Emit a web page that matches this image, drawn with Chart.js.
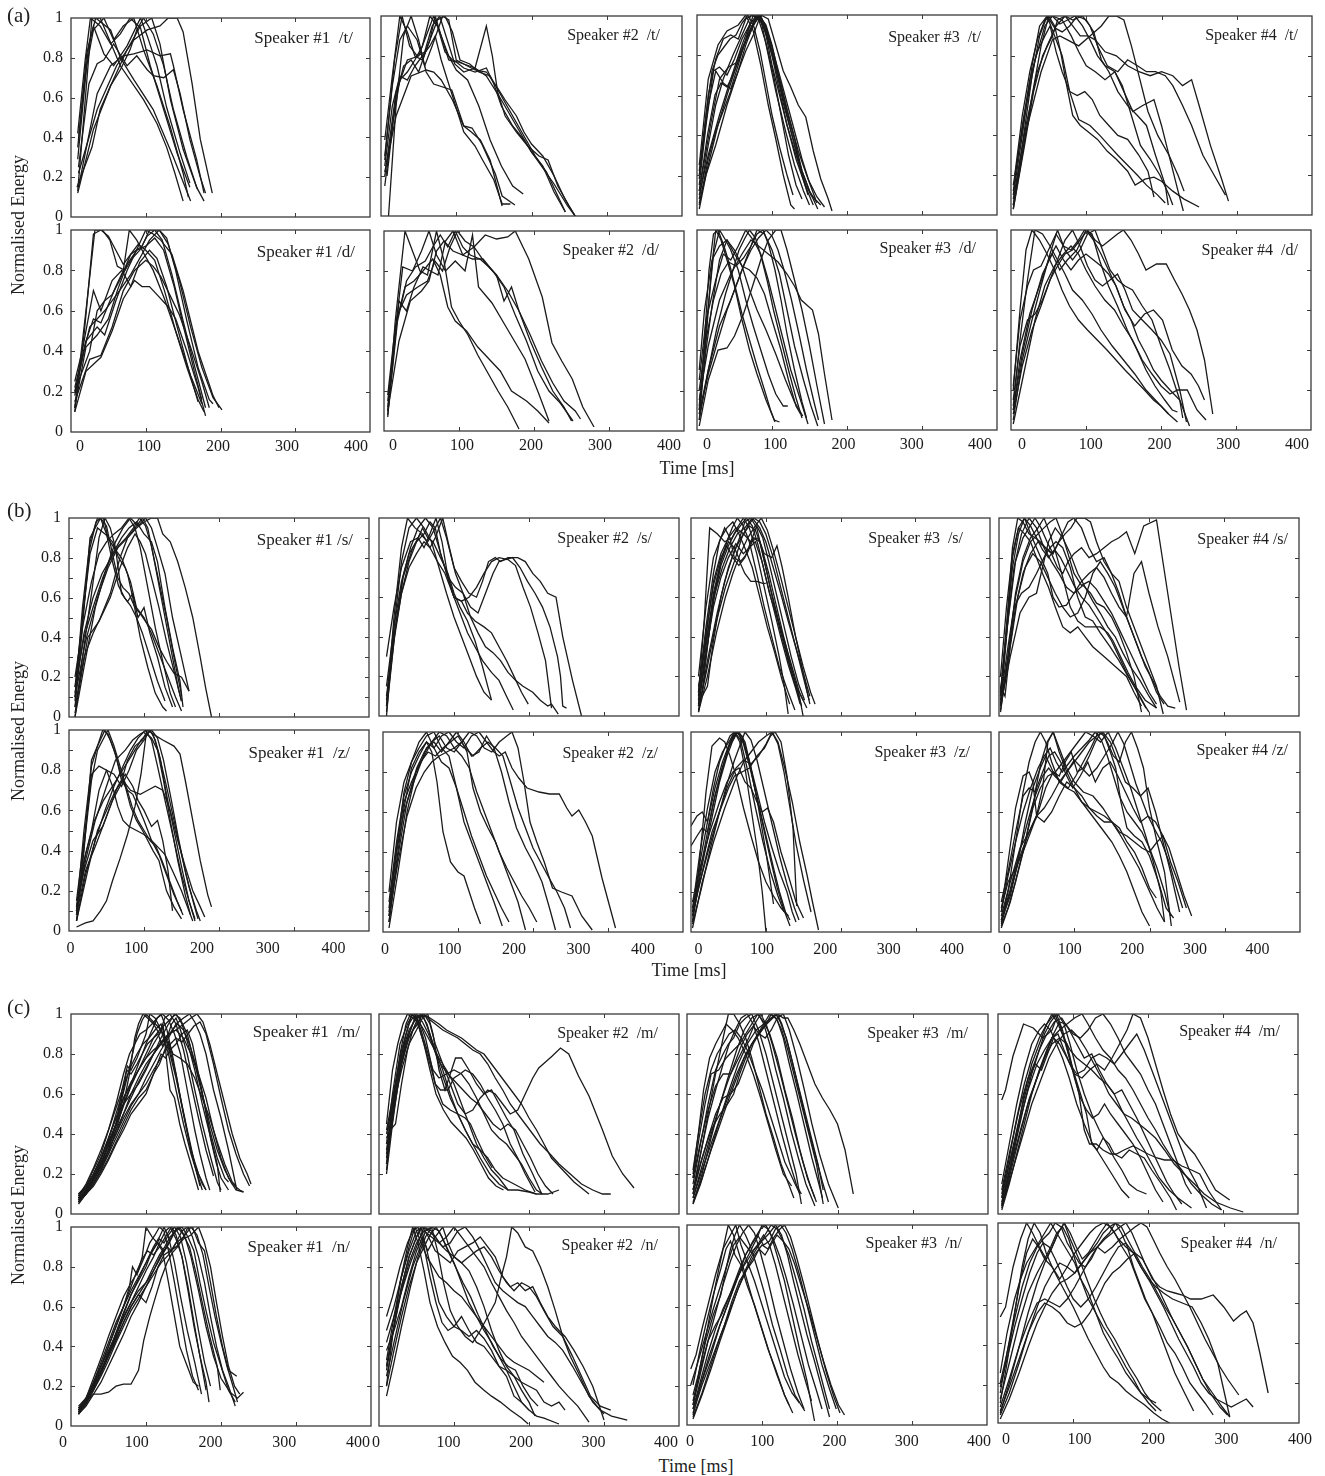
<!DOCTYPE html>
<html>
<head>
<meta charset="utf-8">
<script src="https://cdn.jsdelivr.net/npm/chart.js@4.4.1/dist/chart.umd.min.js"></script>
<style>
  html, body { margin: 0; padding: 0; background: #fff; }
  #stage { position: relative; width: 1325px; height: 1476px; overflow: hidden; font-family: "Liberation Serif", "DejaVu Serif", serif; color: #1e1e1e; }
  .panel { position: absolute; }
  .panel canvas { display: block; }
  .spk { position: absolute; font-size: 16px; line-height: 18px; white-space: pre; }
  .spk.first { font-size: 17px; }
  .grp { position: absolute; font-size: 21px; line-height: 24px; }
  .xt { position: absolute; font-size: 18px; line-height: 22px; width: 200px; text-align: center; }
  .yt { position: absolute; font-size: 18px; line-height: 22px; width: 220px; text-align: center; transform: rotate(-90deg); transform-origin: 50% 50%; }
</style>
</head>
<body>
<div id="stage"></div>
<script>
// Axis ticks shared by every panel
const TIME_TICKS = [0, 100, 200, 300, 400];
const ENERGY_TICKS = [0, 0.2, 0.4, 0.6, 0.8, 1];

// Each token: list of normalised-energy contours, each stored as [t0, e0, t1, e1, ...] (t in ms)
// ---- (a) /t/ ----
const spk1_t = [
  [9,.13, 28,1.0, 39,1.0, 66,.76, 97,.59, 115,.47, 128,.35, 139,.22, 150,.08],
  [10,.39, 21,.82, 33,1.0, 53,.94, 66,.8, 84,.69, 110,.54, 137,.3, 160,.08],
  [8,.15, 28,.35, 39,.54, 53,.66, 66,.74, 79,.84, 88,.94, 97,1.0, 110,.92, 124,.76, 137,.54, 155,.3, 169,.14],
  [9,.12, 30,.44, 53,.66, 75,.84, 93,.96, 108,1.0, 119,.87, 133,.59, 150,.34, 168,.15, 178,.08],
  [10,.22, 35,.54, 61,.76, 84,.89, 102,.94, 119,.96, 130,1.0, 142,1.0, 150,.93, 162,.67, 173,.39, 189,.12],
  [9,.42, 19,.79, 26,1.0, 39,.96, 53,.87, 66,.92, 79,1.0, 93,.95, 106,.76, 124,.54, 142,.32, 159,.15],
  [10,.25, 24,.67, 35,.77, 44,.79, 57,.87, 75,.76, 88,.81, 102,.74, 110,.71, 124,.7, 137,.74, 146,.62, 159,.39, 173,.2, 180,.12],
  [9,.29, 21,.76, 30,.94, 44,1.0, 57,.89, 70,.96, 84,1.0, 97,.84, 115,.66, 133,.45, 150,.22, 157,.1],
  [10,.15, 35,.62, 53,.76, 70,.81, 84,.82, 102,.84, 119,.81, 133,.82, 137,.76, 150,.54, 168,.29, 178,.12],
  [9,.35, 17,.64, 24,.87, 30,.96, 44,.82, 57,.76, 75,.86, 93,1.0, 102,.91, 115,.76, 128,.55, 146,.32, 159,.17]
];
const spk2_t = [
  [10,.0, 20,.55, 30,.9, 40,1.0, 50,.88, 60,.72, 70,.66, 94,.63, 110,.45, 121,.44, 134,.36, 152,.21, 161,.1, 178,.055],
  [5,.38, 15,.7, 25,1.0, 35,.92, 45,.8, 55,.78, 65,.88, 72,1.0, 80,.9, 90,.78, 100,.77, 110,.74, 125,.72, 140,.74, 150,.66, 160,.55, 175,.45, 190,.38, 200,.32, 215,.25, 230,.12, 245,.02],
  [5,.28, 18,.78, 28,1.0, 38,.85, 48,.8, 58,.82, 68,.95, 78,1.0, 88,.88, 98,.76, 110,.72, 125,.74, 140,.95, 148,.8, 155,.62, 165,.5, 180,.42, 195,.35, 210,.3, 222,.28, 235,.15, 250,.05, 258,.0],
  [5,.25, 15,.55, 25,.7, 35,.68, 45,.75, 55,.8, 65,.85, 72,.9, 80,.78, 95,.6, 110,.42, 125,.35, 135,.28, 150,.18, 161,.06, 172,.06],
  [5,.15, 15,.45, 25,.68, 35,.72, 45,.78, 55,.85, 65,1.0, 75,.95, 85,.82, 95,.78, 110,.76, 125,.73, 140,.72, 155,.64, 165,.58, 180,.5, 190,.42, 200,.36, 215,.3, 230,.2, 245,.08, 258,.0],
  [5,.2, 20,.62, 35,.78, 50,.8, 60,.9, 70,1.0, 80,.9, 90,.8, 100,.73, 115,.68, 130,.55, 145,.38, 160,.25, 175,.15, 189,.11],
  [8,.2, 20,.6, 30,.75, 40,.78, 50,.72, 62,.85, 75,.98, 85,1.0, 95,.92, 105,.78, 118,.76, 130,.72, 145,.7, 160,.6, 175,.5, 190,.4, 205,.3, 220,.22, 235,.1, 245,.02],
  [5,.3, 15,.65, 25,.88, 35,.95, 48,.88, 58,.75, 68,.85, 82,1.0, 90,.98, 100,.78, 110,.76, 125,.74, 140,.7, 160,.58, 180,.45, 200,.32, 215,.24, 230,.16, 248,.05, 258,.0],
  [5,.22, 20,.5, 40,.7, 60,.73, 70,.72, 80,.68, 95,.58, 110,.45, 120,.42, 132,.38, 145,.28, 161,.05]
];
const spk3_t = [
  [3,.25, 15,.68, 28,.85, 40,.92, 55,.95, 65,1.0, 75,.92, 85,.75, 95,.55, 105,.38, 115,.2, 125,.05, 130,.03],
  [3,.2, 15,.55, 25,.72, 35,.66, 45,.63, 55,.75, 65,.88, 75,1.0, 85,.98, 95,.8, 105,.62, 118,.42, 130,.25, 142,.12, 150,.05],
  [3,.05, 15,.28, 25,.42, 35,.52, 45,.62, 55,.72, 65,.82, 75,.9, 85,1.0, 95,.98, 105,.85, 115,.72, 125,.64, 135,.55, 145,.49, 155,.32, 165,.18, 175,.08, 180,.02],
  [3,.1, 15,.3, 30,.5, 45,.68, 60,.85, 70,.95, 80,1.0, 90,.93, 100,.8, 110,.62, 120,.45, 132,.3, 145,.15, 155,.08, 161,.03],
  [3,.12, 18,.45, 30,.68, 42,.74, 52,.76, 62,.85, 72,.92, 82,1.0, 92,.95, 100,.85, 110,.68, 122,.5, 135,.32, 148,.18, 160,.09, 170,.04],
  [3,.08, 15,.35, 25,.55, 35,.68, 48,.8, 60,.9, 72,1.0, 82,.98, 92,.86, 102,.7, 112,.5, 122,.3, 132,.15, 140,.08],
  [3,.15, 12,.45, 22,.72, 30,.74, 40,.7, 50,.78, 60,.88, 70,.95, 80,1.0, 90,.96, 100,.82, 110,.68, 120,.52, 130,.38, 140,.22, 150,.12, 160,.06],
  [3,.03, 12,.2, 25,.35, 40,.55, 55,.72, 65,.85, 75,.95, 85,1.0, 92,.9, 100,.75, 110,.6, 120,.45, 132,.28, 145,.14, 155,.05],
  [3,.18, 15,.6, 25,.78, 35,.88, 45,.9, 55,.88, 65,.98, 75,1.0, 85,.97, 95,.88, 105,.74, 115,.56, 128,.38, 140,.22, 152,.1, 165,.05],
  [3,.22, 12,.5, 20,.72, 28,.8, 36,.84, 44,.88, 52,.9, 60,.96, 68,1.0, 76,.94, 84,.82, 92,.66, 100,.5, 110,.34, 120,.2, 128,.1],
  [3,.06, 15,.25, 28,.45, 40,.6, 52,.74, 62,.84, 70,.92, 78,.98, 84,1.0, 92,.94, 100,.84, 110,.7, 120,.56, 130,.42, 140,.28, 150,.16, 158,.08],
  [3,.12, 14,.4, 24,.6, 32,.66, 40,.64, 48,.7, 58,.8, 68,.9, 76,.97, 84,1.0, 92,.92, 100,.8, 110,.66, 120,.5, 130,.35, 140,.2, 148,.1]
];
const spk4_t = [
  [3,.1, 15,.4, 28,.75, 38,.95, 48,1.0, 58,.9, 68,.8, 78,.62, 88,.6, 98,.62, 108,.58, 118,.5, 130,.45, 142,.4, 155,.38, 170,.3, 182,.22, 190,.09],
  [3,.03, 15,.3, 28,.6, 40,.85, 50,1.0, 58,.95, 66,.82, 74,.65, 82,.5, 92,.45, 102,.42, 115,.38, 128,.32, 140,.28, 155,.22, 165,.15, 178,.18, 190,.19, 200,.17, 215,.12, 230,.08, 250,.04],
  [3,.05, 15,.35, 28,.7, 38,.9, 48,1.0, 58,.94, 68,.92, 78,.95, 88,1.0, 100,.98, 110,.92, 120,.78, 130,.72, 142,.62, 155,.55, 168,.5, 180,.45, 192,.3, 205,.15, 209,.05],
  [5,.2, 15,.5, 25,.72, 35,.88, 45,.98, 55,1.0, 65,.96, 75,.98, 85,1.0, 95,.95, 105,.88, 115,.8, 125,.75, 138,.72, 150,.62, 162,.52, 175,.55, 190,.58, 200,.45, 210,.3, 222,.12, 229,.02],
  [3,.08, 20,.45, 35,.72, 48,.85, 60,.95, 72,1.0, 82,.95, 92,.9, 102,.9, 112,.88, 125,.82, 140,.8, 155,.75, 170,.72, 185,.7, 200,.72, 215,.7, 228,.65, 240,.68, 250,.55, 265,.35, 280,.18, 289,.07],
  [3,.03, 18,.35, 30,.62, 42,.8, 55,.9, 62,.98, 72,1.0, 82,.98, 95,1.0, 105,.95, 115,.85, 128,.75, 142,.72, 155,.78, 168,.75, 180,.72, 192,.72, 205,.7, 215,.65, 228,.55, 240,.45, 255,.3, 270,.2, 285,.1],
  [3,.15, 18,.5, 32,.78, 45,.95, 55,1.0, 68,.98, 80,.9, 90,.82, 100,.75, 112,.72, 125,.68, 138,.72, 148,.65, 160,.5, 172,.35, 185,.28, 198,.2, 210,.1, 215,.05],
  [3,.05, 20,.42, 40,.72, 55,.88, 65,.9, 75,.88, 90,.85, 105,.9, 120,.95, 130,1.0, 140,1.0, 150,.98, 160,.85, 170,.7, 182,.52, 195,.4, 210,.3, 222,.2, 230,.12],
  [3,.12, 15,.45, 25,.68, 35,.82, 45,.9, 52,.95, 60,.82, 68,.72, 78,.62, 90,.48, 105,.45, 118,.4, 130,.35, 142,.3, 155,.25, 168,.2, 180,.15, 195,.1, 205,.06]
];
// ---- (a) /d/ ----
const spk1_d = [
  [5,.12, 20,.6, 32,1.0, 42,1.0, 52,.95, 62,.82, 72,.8, 82,.86, 92,.9, 102,.97, 112,1.0, 122,.95, 135,.78, 150,.55, 165,.33, 180,.12],
  [5,.1, 18,.5, 30,.98, 40,1.0, 50,.97, 60,.9, 70,.83, 80,.88, 90,.93, 100,.9, 112,.85, 125,.7, 140,.5, 155,.32, 170,.16, 178,.1],
  [5,.22, 20,.45, 30,.56, 40,.54, 50,.63, 60,.72, 70,.8, 78,1.0, 88,.95, 98,.88, 110,.8, 125,.66, 140,.5, 160,.28, 175,.14],
  [5,.2, 25,.4, 35,.6, 45,.65, 55,.68, 65,.75, 80,.88, 95,.92, 105,1.0, 118,1.0, 130,.93, 145,.75, 160,.52, 175,.32, 190,.17, 202,.11],
  [5,.15, 25,.36, 40,.38, 55,.52, 70,.7, 85,.8, 100,.85, 110,.82, 120,.77, 132,.68, 145,.58, 160,.42, 175,.25, 185,.12],
  [5,.1, 20,.3, 40,.37, 55,.5, 70,.66, 85,.75, 95,.72, 105,.72, 115,.68, 130,.62, 140,.56, 155,.4, 170,.22, 180,.08],
  [5,.18, 20,.45, 35,.52, 45,.48, 60,.65, 75,.8, 90,.92, 100,1.0, 110,.98, 120,.95, 135,.88, 150,.7, 170,.4, 190,.18, 198,.12],
  [5,.2, 25,.52, 45,.6, 65,.7, 80,.78, 95,.88, 105,.95, 118,1.0, 128,.96, 140,.8, 155,.55, 170,.32, 185,.16, 190,.14],
  [5,.25, 15,.4, 30,.7, 40,.6, 55,.75, 68,.8, 80,.72, 92,.84, 105,.9, 115,.86, 128,.72, 142,.52, 158,.3, 170,.15],
  [5,.12, 20,.42, 35,.48, 50,.56, 62,.7, 75,.83, 88,.9, 100,.92, 112,.96, 124,.9, 138,.72, 152,.5, 165,.3, 175,.16]
];
const spk2_d = [
  [5,.07, 15,.55, 28,1.0, 38,.9, 48,.8, 58,.78, 70,1.0, 80,.85, 90,.62, 100,.55, 112,.48, 125,.38, 140,.28, 152,.2, 165,.12, 180,.01],
  [5,.12, 15,.5, 25,.82, 38,.8, 50,.9, 60,1.0, 70,.88, 82,.8, 95,.85, 108,.8, 118,.98, 126,.72, 144,.64, 166,.5, 188,.36, 206,.19, 220,.05],
  [5,.08, 18,.55, 30,.75, 42,.82, 55,.85, 65,.92, 75,.98, 85,.92, 95,1.0, 105,.92, 115,.88, 128,.86, 140,.82, 150,.78, 160,.65, 170,.72, 180,.6, 195,.45, 210,.32, 225,.2, 240,.12, 250,.05],
  [5,.1, 20,.65, 30,.6, 40,.72, 52,.82, 62,.8, 72,.78, 82,.95, 92,1.0, 105,.88, 118,.86, 132,.86, 145,.8, 160,.72, 175,.58, 190,.45, 205,.3, 220,.2, 235,.14, 252,.05],
  [5,.15, 18,.58, 30,.68, 45,.72, 58,.75, 68,.85, 78,.8, 88,.92, 98,1.0, 108,.95, 120,.92, 135,.84, 150,.78, 165,.7, 180,.6, 195,.48, 210,.35, 225,.24, 240,.15, 255,.1, 262,.06],
  [5,.1, 20,.45, 35,.65, 50,.7, 60,.75, 70,.9, 80,.95, 92,.9, 105,.88, 120,.92, 135,.98, 150,.96, 165,.97, 175,1.0, 193,.86, 211,.67, 224,.44, 237,.35, 251,.26, 265,.12, 280,.02],
  [5,.18, 15,.52, 28,.72, 40,.75, 52,.8, 65,.86, 75,.78, 85,.62, 95,.55, 110,.5, 125,.42, 140,.36, 155,.3, 170,.2, 190,.15, 205,.1, 220,.04]
];
const spk3_d = [
  [3,.05, 10,.35, 18,.75, 25,1.0, 32,.95, 40,.85, 50,.72, 60,.55, 70,.4, 80,.28, 92,.15, 103,.05, 110,.04],
  [3,.12, 12,.5, 22,.88, 30,1.0, 38,.95, 45,.9, 55,.8, 65,.65, 75,.52, 85,.4, 95,.28, 105,.18, 115,.12, 121,.12],
  [3,.1, 12,.4, 20,.62, 30,.85, 40,.95, 50,.9, 60,.82, 70,.7, 80,.6, 92,.5, 105,.38, 118,.25, 130,.14, 141,.07],
  [3,.25, 12,.55, 25,.75, 35,.88, 45,.85, 55,.92, 65,1.0, 75,.95, 85,.88, 95,.75, 105,.6, 115,.45, 125,.3, 138,.15, 148,.03],
  [3,.08, 15,.3, 30,.52, 45,.65, 60,.8, 70,.9, 80,1.0, 90,.98, 100,.9, 110,.78, 120,.6, 130,.42, 142,.25, 152,.12, 161,.02],
  [3,.02, 15,.25, 28,.4, 40,.41, 50,.47, 62,.58, 75,.73, 85,.85, 95,.95, 105,1.0, 112,1.0, 120,.9, 130,.75, 140,.6, 150,.42, 160,.22, 170,.03],
  [3,.15, 15,.42, 30,.65, 45,.78, 60,.88, 72,.95, 82,.92, 95,.88, 108,.84, 120,.78, 130,.72, 139,.65, 154,.6, 162,.48, 170,.28, 180,.05],
  [3,.3, 10,.6, 20,.85, 30,.92, 40,.95, 50,.88, 60,.82, 70,.8, 80,.76, 90,.68, 100,.55, 112,.4, 122,.25, 132,.12, 138,.08],
  [3,.1, 10,.45, 16,.8, 22,.98, 28,1.0, 36,.92, 44,.82, 52,.7, 60,.58, 70,.45, 80,.32, 90,.2, 98,.1, 104,.04],
  [3,.05, 14,.28, 26,.5, 38,.68, 48,.8, 56,.9, 64,.96, 70,1.0, 78,.96, 86,.86, 94,.74, 102,.6, 112,.45, 122,.3, 132,.16, 140,.06],
  [3,.2, 12,.45, 22,.65, 32,.78, 42,.84, 52,.82, 62,.86, 72,.92, 80,.98, 88,1.0, 96,.92, 104,.8, 112,.65, 120,.48, 130,.3, 140,.14, 146,.06],
  [3,.08, 15,.28, 28,.45, 40,.6, 52,.72, 62,.82, 72,.9, 82,.96, 92,1.0, 100,.97, 108,.9, 116,.8, 126,.65, 136,.48, 146,.3, 156,.14, 162,.05]
];
const spk4_d = [
  [3,.2, 12,.6, 20,.9, 28,1.0, 38,.95, 48,.88, 58,.8, 68,.7, 78,.62, 90,.55, 102,.5, 115,.45, 128,.4, 140,.35, 152,.3, 165,.25, 178,.2, 190,.15, 200,.12, 210,.08],
  [3,.12, 12,.45, 22,.75, 32,1.0, 42,.98, 52,.92, 62,.85, 72,.78, 82,.7, 95,.65, 108,.58, 120,.5, 135,.42, 150,.35, 165,.28, 180,.2, 195,.14, 210,.08, 222,.04],
  [3,.05, 15,.35, 28,.55, 40,.72, 52,.88, 62,1.0, 72,.9, 82,.85, 92,.9, 102,.98, 112,1.0, 122,.9, 132,.8, 142,.75, 152,.72, 162,.7, 175,.62, 188,.55, 200,.42, 212,.3, 225,.15, 238,.02],
  [3,.08, 15,.32, 28,.5, 40,.62, 52,.75, 62,.85, 72,.95, 82,1.0, 92,.92, 102,.82, 112,.75, 122,.72, 132,.75, 142,.78, 152,.7, 162,.6, 175,.55, 188,.5, 200,.45, 212,.38, 225,.2, 234,.04],
  [3,.15, 12,.42, 22,.55, 32,.58, 42,.65, 52,.75, 62,.82, 72,.88, 82,.9, 92,.95, 102,1.0, 112,.95, 122,.92, 132,.95, 142,.98, 150,1.0, 160,.95, 170,.88, 180,.8, 194,.83, 207,.83, 218,.75, 228,.68, 238,.6, 248,.5, 258,.35, 269,.08],
  [3,.1, 12,.35, 25,.58, 38,.72, 50,.85, 60,.92, 70,.85, 80,.8, 90,.85, 100,.88, 110,.85, 120,.82, 130,.78, 140,.72, 152,.6, 165,.52, 178,.58, 190,.6, 202,.55, 215,.4, 228,.32, 240,.28, 250,.22, 258,.15],
  [3,.1, 15,.38, 28,.6, 42,.78, 55,.88, 65,.8, 75,.85, 88,.9, 100,1.0, 110,.95, 120,.88, 130,.8, 140,.72, 150,.62, 160,.55, 170,.45, 180,.38, 190,.3, 200,.25, 212,.2, 225,.15, 229,.06],
  [3,.03, 18,.3, 32,.55, 45,.72, 58,.82, 70,.88, 80,.92, 90,.88, 100,.8, 112,.72, 125,.65, 138,.6, 150,.52, 162,.45, 175,.35, 188,.28, 200,.22, 212,.18, 222,.2, 235,.2, 248,.1, 260,.05],
  [3,.22, 12,.55, 22,.72, 30,.8, 40,.82, 50,.9, 60,.98, 70,.92, 80,.9, 90,.95, 98,1.0, 108,.98, 118,.85, 130,.72, 142,.62, 155,.5, 168,.4, 180,.3, 192,.22, 205,.15, 215,.1, 222,.09]
];
// ---- (b) /s/ ----
const spk1_s = [
  [8,.05, 18,.45, 28,.9, 35,.95, 42,1.0, 50,.96, 58,.82, 65,.7, 72,.65, 80,.62, 88,.55, 95,.52, 102,.48, 110,.44, 120,.35, 130,.28, 140,.22, 150,.2, 160,.13],
  [8,.1, 18,.55, 28,.88, 38,1.0, 46,1.0, 52,.9, 60,.85, 70,.8, 78,.72, 85,.6, 95,.4, 105,.25, 115,.12, 125,.05, 130,.03],
  [8,.0, 18,.3, 30,.62, 40,.9, 48,1.0, 55,.95, 62,.85, 70,.62, 78,.58, 85,.62, 92,.5, 100,.55, 108,.42, 118,.3, 128,.15, 138,.05],
  [8,.2, 18,.45, 30,.68, 40,.82, 50,.88, 60,.92, 70,.95, 80,1.0, 88,.95, 95,.85, 105,.65, 115,.45, 125,.28, 135,.12, 142,.05],
  [8,.05, 20,.3, 32,.42, 42,.5, 55,.62, 68,.8, 78,.9, 88,.95, 98,1.0, 105,.95, 112,.82, 120,.68, 130,.5, 140,.3, 150,.11],
  [8,.15, 20,.4, 32,.55, 45,.7, 58,.82, 70,.9, 80,.95, 90,.98, 100,.92, 110,.88, 118,.78, 128,.55, 138,.35, 148,.18, 152,.05],
  [8,.0, 20,.25, 35,.55, 50,.75, 62,.88, 72,.95, 82,1.0, 92,.96, 102,1.0, 110,.95, 118,.85, 128,.72, 138,.5, 150,.3, 160,.13],
  [8,.1, 22,.38, 38,.6, 52,.75, 65,.85, 78,.9, 90,.95, 100,.98, 110,1.0, 118,1.0, 125,.92, 135,.88, 145,.78, 155,.65, 165,.5, 175,.3, 182,.15, 190,.0],
  [8,.15, 18,.5, 28,.82, 38,.95, 48,.92, 58,.88, 66,.8, 75,.75, 82,.68, 90,.55, 100,.5, 110,.42, 120,.32, 132,.2, 142,.1, 150,.03],
  [8,.02, 25,.4, 40,.48, 55,.6, 68,.75, 78,.85, 88,.92, 95,.88, 102,.82, 110,.7, 120,.55, 130,.38, 142,.2, 150,.08],
  [8,.08, 18,.5, 28,.85, 36,.98, 42,1.0, 50,.92, 58,.78, 66,.66, 74,.6, 82,.56, 90,.5, 98,.42, 108,.3, 118,.18, 128,.08],
  [8,.12, 20,.42, 32,.6, 44,.72, 56,.8, 66,.86, 76,.9, 86,.95, 94,1.0, 102,.96, 110,.86, 118,.7, 128,.5, 138,.3, 146,.14, 150,.08]
];
const spk2_s = [
  [10,.0, 20,.45, 30,.78, 40,.95, 50,1.0, 60,.95, 70,.88, 80,.75, 90,.62, 100,.5, 110,.4, 120,.3, 130,.2, 140,.12, 150,.08],
  [10,.05, 20,.5, 30,.85, 38,1.0, 48,.95, 58,.92, 68,.85, 78,.78, 88,.72, 98,.62, 108,.52, 118,.42, 128,.35, 138,.28, 150,.22, 160,.18, 170,.1, 179,.03],
  [10,.02, 22,.45, 32,.7, 42,.85, 52,.95, 62,1.0, 72,.95, 80,.85, 90,.72, 100,.6, 110,.58, 118,.52, 128,.48, 140,.45, 150,.42, 160,.35, 170,.28, 180,.2, 190,.12, 199,.06],
  [10,.3, 20,.55, 30,.75, 42,.88, 52,.9, 60,.85, 68,.92, 76,1.0, 84,.88, 92,.7, 100,.6, 110,.58, 120,.6, 130,.65, 140,.72, 150,.78, 160,.8, 172,.79, 182,.76, 192,.65, 202,.55, 212,.42, 222,.28, 230,.04],
  [10,.08, 20,.4, 32,.7, 45,.85, 55,.92, 65,.88, 75,.95, 82,1.0, 90,.9, 100,.75, 110,.68, 120,.62, 130,.6, 138,.68, 146,.78, 155,.8, 162,.78, 172,.8, 185,.8, 195,.78, 205,.72, 215,.68, 225,.62, 236,.6, 245,.4, 258,.18, 270,.0],
  [10,.05, 20,.38, 30,.62, 40,.78, 50,.88, 60,.92, 68,.98, 75,.95, 82,.82, 92,.7, 102,.65, 112,.62, 122,.55, 132,.52, 142,.62, 152,.72, 160,.78, 168,.79, 178,.8, 188,.75, 198,.68, 208,.62, 218,.55, 228,.45, 238,.3, 242,.2, 245,.05, 250,.04],
  [10,.1, 20,.4, 30,.62, 40,.75, 50,.82, 60,.88, 68,.85, 75,.9, 85,1.0, 92,.88, 102,.72, 112,.62, 122,.5, 132,.42, 142,.35, 152,.32, 162,.28, 172,.22, 182,.18, 192,.15, 205,.12, 215,.08, 225,.05, 230,.06, 239,.01],
  [10,.15, 20,.45, 30,.68, 40,.82, 50,.88, 58,.95, 65,.9, 72,.88, 82,.8, 92,.72, 100,.62, 108,.55, 118,.48, 128,.38, 138,.25, 145,.15, 150,.08]
];
const spk3_s = [
  [10,.1, 18,.5, 25,.95, 35,.92, 45,.88, 55,.9, 62,.95, 70,1.0, 78,.95, 88,.82, 98,.65, 108,.48, 118,.3, 125,.15, 130,.01],
  [10,.05, 20,.35, 30,.62, 40,.78, 48,.88, 55,.95, 62,1.0, 70,.96, 78,.88, 88,.72, 98,.55, 108,.4, 118,.25, 130,.12, 139,.03],
  [10,.02, 22,.28, 35,.52, 45,.68, 55,.8, 65,.9, 72,.98, 80,1.0, 88,.95, 96,.82, 106,.65, 116,.5, 126,.35, 136,.2, 145,.1, 150,.0],
  [10,.12, 20,.45, 30,.72, 38,.88, 45,.95, 52,.9, 58,.8, 65,.78, 72,.72, 80,.68, 88,.68, 96,.67, 100,.67],
  [10,.08, 20,.4, 30,.68, 40,.82, 50,.9, 60,.95, 70,.92, 80,.88, 90,.9, 98,.82, 108,.8, 115,.86, 122,.75, 130,.6, 140,.4, 150,.22, 159,.06],
  [10,.15, 22,.42, 32,.62, 42,.75, 52,.85, 62,.92, 72,.95, 82,1.0, 92,.95, 100,.88, 110,.75, 120,.62, 130,.48, 140,.35, 150,.22, 159,.1],
  [10,.06, 20,.32, 30,.55, 40,.7, 50,.8, 60,.87, 70,.82, 78,.85, 86,.88, 95,.78, 105,.62, 115,.5, 125,.38, 135,.25, 145,.12, 155,.04],
  [10,.2, 20,.55, 30,.8, 40,.9, 48,.95, 56,.98, 64,.92, 72,.85, 82,.75, 92,.6, 102,.45, 112,.32, 122,.18, 132,.06],
  [10,.03, 22,.25, 34,.48, 46,.65, 58,.78, 68,.9, 76,.96, 84,1.0, 92,.98, 100,.92, 110,.8, 120,.65, 130,.5, 140,.35, 150,.2, 158,.08],
  [10,.1, 15,.12, 22,.35, 30,.6, 40,.78, 50,.88, 58,.85, 66,.78, 75,.82, 84,.9, 92,.88, 100,.75, 110,.58, 120,.42, 130,.28, 140,.15, 148,.05],
  [10,.05, 20,.3, 30,.58, 40,.76, 50,.86, 58,.92, 66,.96, 74,1.0, 82,.96, 90,.86, 100,.7, 110,.55, 120,.4, 130,.26, 140,.14, 146,.06],
  [10,.12, 20,.42, 30,.66, 40,.8, 48,.86, 56,.8, 64,.76, 72,.8, 80,.88, 88,.96, 96,.9, 104,.78, 114,.62, 124,.46, 134,.3, 144,.16, 152,.08],
  [10,.02, 22,.2, 34,.42, 46,.6, 56,.72, 66,.82, 76,.9, 86,.96, 94,1.0, 102,.94, 110,.84, 120,.7, 130,.55, 140,.4, 150,.25, 160,.12, 166,.06],
  [10,.08, 15,.1, 22,.15, 30,.38, 40,.6, 50,.75, 60,.85, 70,.92, 78,.96, 86,.94, 94,.86, 104,.72, 114,.56, 124,.4, 134,.25, 142,.14, 150,.08]
];
const spk4_s = [
  [2,.1, 10,.45, 18,.85, 25,1.0, 32,.98, 40,.92, 48,.9, 55,.88, 62,.85, 70,.82, 78,.75, 85,.72, 92,.78, 100,.82, 110,.85, 120,.8, 130,.82, 140,.85, 150,.88, 160,.9, 170,.93, 181,.82, 193,.96, 210,.99, 225,.62, 240,.25, 250,.03],
  [2,.05, 10,.4, 18,.8, 26,.95, 34,1.0, 42,.92, 50,.85, 58,.78, 65,.72, 72,.6, 80,.55, 90,.56, 100,.62, 112,.66, 122,.62, 130,.57, 140,.55, 150,.5, 160,.42, 170,.32, 180,.2, 190,.02],
  [2,.02, 12,.3, 22,.62, 32,.8, 42,.9, 52,.95, 60,1.0, 68,.92, 76,.82, 85,.7, 95,.55, 105,.48, 115,.45, 125,.45, 135,.45, 145,.42, 152,.38, 162,.3, 172,.22, 182,.15, 195,.08, 210,.04],
  [2,.08, 12,.35, 20,.55, 30,.62, 40,.65, 50,.72, 60,.8, 68,.85, 76,.88, 85,.85, 95,.75, 105,.6, 115,.5, 125,.48, 135,.42, 148,.35, 160,.28, 172,.2, 185,.12, 195,.05, 200,.02],
  [2,.12, 12,.48, 22,.78, 32,.9, 40,.95, 48,1.0, 56,.95, 64,.88, 72,.82, 80,.88, 88,.92, 96,.95, 104,1.0, 114,1.0, 122,.98, 130,.88, 140,.78, 150,.72, 160,.68, 170,.55, 180,.45, 190,.35, 200,.25, 210,.15, 219,.01],
  [2,.03, 12,.28, 22,.55, 32,.72, 42,.82, 52,.88, 62,.85, 72,.82, 82,.9, 92,.98, 100,1.0, 110,.95, 120,.85, 130,.78, 140,.8, 150,.72, 160,.62, 170,.5, 180,.4, 190,.3, 200,.22, 210,.12, 220,.06],
  [2,.15, 8,.1, 15,.35, 25,.6, 35,.75, 45,.82, 55,.78, 65,.7, 75,.62, 85,.55, 95,.5, 105,.52, 115,.6, 125,.72, 135,.78, 145,.72, 155,.65, 165,.55, 175,.45, 185,.35, 195,.25, 205,.18, 215,.1, 225,.05, 235,.04],
  [2,.1, 10,.42, 20,.75, 30,.92, 40,1.0, 50,.95, 60,.85, 70,.78, 80,.72, 90,.65, 100,.62, 110,.68, 120,.72, 130,.75, 140,.7, 150,.62, 160,.55, 170,.5, 180,.72, 190,.78, 200,.62, 212,.45, 225,.3, 241,.07],
  [2,.2, 10,.55, 18,.82, 26,.95, 34,.92, 42,.88, 50,.8, 58,.72, 66,.65, 75,.55, 85,.45, 95,.42, 105,.45, 115,.4, 125,.35, 140,.3, 155,.25, 170,.2, 180,.12, 190,.05],
  [2,.05, 15,.3, 28,.52, 40,.6, 50,.62, 58,.75, 66,.88, 75,.95, 85,.9, 95,.82, 105,.72, 115,.65, 125,.58, 135,.52, 145,.45, 155,.4, 165,.32, 175,.25, 188,.18, 200,.1, 210,.04],
  [2,.12, 10,.45, 18,.75, 26,.92, 34,1.0, 42,.96, 50,.9, 58,.84, 66,.8, 74,.84, 82,.8, 90,.74, 100,.66, 110,.6, 120,.56, 130,.5, 140,.44, 150,.38, 160,.3, 170,.22, 180,.15, 190,.08, 196,.04],
  [2,.06, 12,.3, 22,.6, 32,.78, 42,.88, 52,.92, 60,.95, 68,.98, 76,1.0, 84,.92, 92,.82, 100,.72, 110,.66, 120,.68, 130,.64, 140,.58, 150,.52, 160,.44, 170,.36, 180,.28, 190,.2, 200,.12, 210,.06]
];
// ---- (b) /z/ ----
const spk1_z = [
  [10,.02, 22,.04, 32,.05, 42,.1, 50,.15, 58,.25, 68,.36, 78,.48, 88,.62, 96,.78, 103,.98, 110,.96, 118,.9, 126,.75, 135,.55, 145,.35, 155,.18, 162,.08],
  [10,.05, 20,.4, 30,.85, 38,.92, 45,1.0, 52,.98, 60,.9, 68,.8, 75,.72, 82,.62, 90,.55, 98,.5, 105,.45, 112,.4, 120,.35, 130,.2, 140,.12, 150,.06],
  [10,.1, 20,.5, 30,.82, 38,.92, 48,1.0, 55,.95, 62,.88, 70,.75, 78,.7, 85,.68, 92,.62, 100,.55, 110,.45, 120,.38, 130,.28, 140,.18, 150,.1],
  [10,.12, 20,.35, 30,.5, 40,.7, 50,.8, 60,.78, 70,.72, 80,.8, 90,.9, 100,.95, 108,1.0, 115,.95, 122,.85, 130,.68, 140,.5, 150,.32, 160,.15, 168,.06],
  [10,.08, 22,.3, 35,.42, 48,.55, 58,.65, 68,.72, 78,.85, 88,.92, 98,.95, 105,1.0, 112,.98, 120,.88, 130,.72, 140,.55, 150,.38, 160,.22, 170,.1, 175,.05],
  [10,.05, 25,.3, 38,.5, 50,.6, 62,.7, 72,.75, 82,.7, 95,.68, 105,.7, 115,.72, 125,.7, 135,.6, 145,.45, 155,.32, 165,.2, 175,.12, 181,.07],
  [10,.15, 20,.45, 30,.78, 40,.82, 50,.8, 58,.72, 65,.62, 72,.55, 80,.52, 90,.5, 100,.48, 110,.45, 118,.42, 128,.38, 138,.3, 150,.2, 160,.1, 165,.05],
  [10,.1, 22,.35, 35,.55, 50,.72, 62,.85, 75,.9, 85,.95, 95,.98, 105,1.0, 112,.98, 125,.95, 140,.92, 148,.88, 155,.75, 165,.55, 175,.35, 185,.18, 190,.12],
  [10,.12, 20,.3, 32,.45, 45,.52, 55,.62, 65,.72, 75,.78, 85,.72, 92,.65, 100,.6, 110,.52, 118,.55, 125,.45, 132,.3, 138,.1],
  [10,.05, 22,.28, 35,.45, 48,.6, 60,.72, 72,.82, 82,.9, 92,.96, 102,1.0, 110,.95, 118,.82, 128,.65, 140,.45, 150,.28, 160,.15, 168,.05],
  [10,.08, 20,.42, 30,.75, 38,.9, 45,.95, 52,1.0, 60,.92, 68,.82, 76,.72, 84,.62, 92,.55, 100,.5, 108,.45, 116,.42, 124,.35, 134,.25, 144,.15, 152,.08],
  [10,.1, 22,.38, 34,.55, 46,.65, 58,.72, 68,.78, 78,.84, 88,.9, 96,.95, 104,.98, 110,1.0, 118,.96, 126,.85, 136,.66, 146,.46, 156,.28, 166,.14, 172,.06]
];
const spk2_z = [
  [8,.05, 18,.35, 28,.62, 38,.82, 48,.9, 58,.95, 65,.9, 72,.75, 80,.5, 90,.35, 100,.3, 108,.28, 115,.2, 122,.12, 130,.04],
  [8,.08, 18,.4, 28,.7, 38,.85, 48,.92, 58,.98, 68,1.0, 78,.92, 88,.88, 98,.72, 108,.55, 118,.45, 128,.35, 138,.25, 148,.15, 159,.03],
  [8,.02, 20,.3, 32,.6, 44,.8, 55,.88, 65,.95, 75,1.0, 85,.98, 95,.92, 105,.95, 112,.9, 120,.72, 130,.6, 140,.52, 150,.45, 160,.35, 170,.25, 180,.15, 190,.01],
  [8,.1, 18,.4, 28,.6, 38,.72, 48,.82, 58,.92, 68,.95, 78,.9, 88,.95, 98,1.0, 108,.95, 118,.88, 128,.9, 138,.98, 148,.92, 158,.8, 168,.65, 178,.52, 190,.42, 200,.35, 212,.25, 222,.12, 230,.01],
  [8,.15, 18,.45, 28,.68, 38,.8, 48,.88, 58,.95, 68,.92, 78,.98, 88,1.0, 98,.95, 108,.92, 118,.98, 128,1.0, 138,.95, 148,.9, 155,.88, 163,.9, 172,.82, 181,.77, 192,.72, 208,.7, 222,.69, 235,.69, 245,.62, 252,.58, 261,.61, 270,.55, 279,.48, 292,.27, 310,.02],
  [8,.05, 20,.38, 32,.65, 45,.82, 55,.9, 65,.95, 75,.98, 85,.92, 95,.9, 105,.95, 115,1.0, 125,.98, 135,.92, 145,.9, 155,.95, 165,.98, 172,1.0, 180,.92, 188,.75, 196,.55, 205,.45, 215,.35, 226,.22, 238,.2, 252,.18, 265,.08, 279,.01],
  [8,.12, 18,.42, 28,.65, 38,.75, 50,.85, 60,.9, 70,.88, 80,.92, 90,.95, 100,.98, 110,.92, 120,.88, 130,.92, 140,.95, 150,.92, 160,.88, 170,.75, 180,.62, 190,.52, 200,.42, 210,.35, 220,.28, 232,.2, 242,.12, 250,.02],
  [8,.2, 18,.55, 28,.75, 38,.85, 48,.95, 58,1.0, 68,.92, 78,.85, 88,.82, 98,.72, 108,.6, 118,.48, 128,.38, 138,.28, 148,.2, 158,.12, 168,.05],
  [8,.08, 20,.35, 32,.58, 44,.72, 55,.8, 65,.85, 75,.88, 85,.9, 95,.92, 105,.88, 115,.82, 125,.7, 135,.6, 145,.5, 155,.4, 165,.32, 175,.25, 185,.18, 195,.12, 205,.05]
];
const spk3_z = [
  [0,.53, 8,.58, 15,.6, 22,.55, 30,.72, 38,.85, 45,.92, 52,.98, 58,1.0, 65,.95, 72,.82, 80,.62, 88,.42, 95,.2, 100,.0],
  [0,.43, 8,.48, 15,.52, 22,.5, 30,.65, 40,.8, 50,.92, 58,.98, 64,1.0, 72,.95, 80,.82, 90,.62, 100,.4, 110,.14],
  [2,.05, 10,.3, 20,.7, 28,.93, 38,.97, 45,.95, 52,.88, 60,.78, 70,.62, 80,.48, 90,.35, 100,.25, 110,.18, 120,.12, 130,.08],
  [2,.1, 12,.35, 22,.55, 32,.72, 42,.85, 52,.95, 60,1.0, 68,.98, 76,.88, 85,.72, 95,.55, 105,.38, 115,.22, 125,.1, 132,.03],
  [2,.08, 15,.3, 28,.5, 40,.62, 50,.72, 58,.78, 68,.8, 78,.82, 88,.88, 98,.92, 106,.98, 112,1.0, 120,.95, 128,.78, 136,.52, 141,.13],
  [2,.15, 12,.32, 25,.5, 38,.65, 48,.75, 56,.8, 64,.82, 72,.75, 80,.72, 88,.65, 95,.6, 102,.62, 110,.55, 120,.4, 130,.28, 140,.15, 150,.07],
  [2,.02, 15,.25, 30,.45, 45,.62, 58,.75, 70,.85, 80,.9, 90,.95, 100,.98, 108,1.0, 116,.95, 125,.82, 135,.65, 145,.45, 155,.28, 162,.15, 170,.01],
  [2,.05, 12,.28, 25,.52, 38,.75, 48,.88, 55,.95, 62,1.0, 70,.95, 78,.85, 88,.7, 98,.55, 108,.42, 118,.3, 128,.2, 135,.1, 140,.05],
  [2,.12, 12,.4, 22,.62, 32,.8, 42,.9, 52,.96, 58,1.0, 66,.96, 76,.8, 86,.62, 96,.45, 106,.3, 116,.18, 124,.1],
  [2,.08, 12,.3, 22,.5, 32,.68, 42,.82, 50,.92, 56,.98, 62,1.0, 70,.94, 80,.8, 90,.64, 100,.48, 110,.32, 118,.2, 126,.1, 132,.06],
  [2,.04, 14,.22, 26,.42, 38,.6, 48,.74, 58,.86, 66,.94, 72,1.0, 80,.96, 88,.86, 98,.7, 108,.54, 118,.38, 128,.24, 138,.12, 144,.06],
  [2,.1, 12,.25, 24,.42, 36,.58, 48,.72, 60,.82, 70,.86, 80,.84, 90,.88, 100,.94, 108,1.0, 116,.94, 124,.8, 132,.62, 140,.44, 150,.26, 160,.1]
];
const spk4_z = [
  [3,.05, 12,.2, 22,.45, 32,.7, 40,.85, 48,.95, 55,1.0, 62,.95, 70,.85, 80,.75, 90,.72, 100,.7, 110,.65, 120,.6, 130,.55, 140,.5, 150,.45, 160,.38, 170,.3, 180,.2, 190,.1, 200,.03],
  [3,.1, 12,.35, 22,.62, 32,.78, 40,.8, 45,.75, 50,.58, 58,.72, 65,.95, 72,1.0, 80,.9, 90,.8, 100,.72, 110,.68, 120,.62, 130,.58, 140,.55, 150,.55, 160,.52, 170,.45, 180,.4, 190,.32, 200,.22, 209,.17],
  [3,.02, 15,.15, 25,.3, 35,.45, 45,.62, 55,.72, 65,.78, 75,.8, 85,.85, 95,.9, 105,.95, 115,1.0, 125,.98, 135,.95, 145,1.0, 155,.92, 165,.82, 175,.72, 185,.6, 195,.48, 205,.35, 215,.2, 220,.05],
  [3,.08, 15,.25, 28,.42, 40,.5, 52,.6, 62,.72, 72,.8, 80,.78, 88,.85, 96,.9, 104,.8, 112,.82, 120,.88, 128,.95, 136,1.0, 144,.95, 152,.88, 160,.85, 168,.95, 176,1.0, 184,.92, 192,.82, 200,.62, 210,.45, 220,.3, 229,.03],
  [3,.12, 12,.25, 22,.32, 32,.4, 42,.5, 50,.58, 60,.62, 70,.68, 80,.75, 90,.8, 100,.85, 110,.9, 120,.95, 130,.98, 138,1.0, 148,.95, 158,.85, 168,.75, 178,.72, 188,.68, 198,.72, 208,.6, 218,.45, 228,.3, 240,.1],
  [3,.03, 12,.12, 22,.25, 32,.4, 42,.58, 50,.72, 58,.8, 66,.88, 74,.9, 82,.85, 90,.78, 98,.72, 108,.78, 118,.85, 128,.75, 138,.82, 148,.85, 158,.78, 168,.7, 178,.62, 188,.55, 198,.58, 208,.55, 218,.48, 228,.35, 238,.25, 249,.12],
  [3,.06, 15,.18, 25,.35, 35,.55, 45,.72, 55,.82, 62,.88, 72,.8, 82,.75, 92,.72, 102,.78, 112,.85, 122,.92, 132,1.0, 140,.98, 148,.9, 155,.82, 162,.65, 170,.52, 180,.48, 190,.45, 200,.38, 212,.25, 222,.12, 232,.07],
  [3,.04, 15,.2, 28,.38, 40,.5, 50,.58, 60,.55, 70,.6, 80,.68, 90,.75, 100,.72, 110,.65, 120,.62, 130,.6, 140,.58, 150,.55, 160,.5, 170,.48, 180,.45, 190,.42, 200,.4, 210,.45, 218,.48, 226,.42, 236,.3, 246,.18, 256,.08],
  [3,.15, 12,.3, 22,.5, 32,.68, 40,.72, 48,.7, 56,.85, 64,.95, 72,1.0, 80,.92, 90,.82, 100,.75, 112,.7, 125,.68, 138,.62, 150,.55, 162,.48, 174,.4, 186,.32, 198,.22, 210,.12, 220,.05],
  [3,.1, 12,.28, 22,.45, 32,.6, 42,.72, 52,.82, 60,.88, 68,.92, 76,.85, 84,.8, 92,.84, 100,.88, 110,.92, 120,.96, 128,1.0, 136,.96, 144,.88, 152,.78, 160,.68, 170,.6, 180,.55, 190,.5, 200,.42, 210,.32, 220,.2, 228,.08],
  [3,.06, 14,.2, 26,.38, 38,.55, 48,.68, 58,.78, 66,.82, 74,.78, 82,.75, 90,.8, 100,.86, 110,.82, 120,.78, 130,.82, 140,.88, 150,.94, 158,1.0, 166,.94, 174,.84, 182,.74, 190,.66, 198,.58, 206,.52, 216,.45, 226,.35, 236,.22, 244,.12]
];
// ---- (c) /m/ ----
const spk1_m = [
  [10,.08, 20,.11, 30,.16, 40,.22, 50,.3, 60,.42, 70,.55, 78,.7, 85,.88, 90,.95, 96,1.0, 102,.98, 110,.95, 118,.9, 123,.94, 128,.75, 132,.62, 138,.58, 145,.45, 152,.35, 160,.25, 170,.12],
  [10,.06, 20,.1, 30,.15, 40,.22, 50,.32, 60,.45, 68,.58, 76,.7, 82,.8, 88,.9, 95,.97, 100,1.0, 110,.96, 120,.92, 130,.85, 140,.7, 150,.5, 160,.32, 170,.2, 180,.12],
  [10,.08, 20,.12, 30,.18, 40,.25, 50,.35, 60,.45, 70,.58, 80,.65, 90,.72, 100,.78, 110,.85, 118,.9, 125,.98, 132,1.0, 140,.95, 150,.82, 160,.65, 170,.48, 180,.32, 190,.19],
  [10,.1, 20,.13, 30,.2, 40,.28, 50,.38, 60,.48, 70,.55, 80,.6, 90,.65, 100,.72, 110,.8, 120,.88, 130,.95, 138,1.0, 145,.98, 155,.9, 165,.75, 175,.6, 185,.42, 195,.28, 205,.18, 210,.16],
  [10,.05, 20,.1, 30,.17, 40,.24, 50,.32, 60,.4, 70,.48, 80,.55, 90,.6, 100,.68, 110,.75, 120,.82, 130,.88, 140,.95, 150,.98, 158,1.0, 165,.96, 172,.9, 180,.8, 190,.62, 200,.48, 210,.32, 221,.12],
  [10,.07, 20,.12, 30,.18, 40,.26, 50,.34, 60,.42, 70,.5, 80,.58, 90,.66, 100,.73, 110,.8, 120,.86, 130,.9, 140,.92, 150,.95, 160,.98, 168,1.0, 176,.96, 185,.85, 195,.7, 205,.55, 215,.4, 225,.28, 235,.2, 240,.15],
  [10,.09, 20,.14, 30,.2, 40,.28, 50,.38, 60,.48, 70,.58, 80,.66, 90,.72, 100,.78, 110,.82, 120,.85, 130,.9, 140,.92, 150,.88, 160,.8, 170,.7, 180,.58, 190,.42, 200,.28, 210,.18, 220,.12, 230,.11],
  [10,.08, 20,.12, 30,.18, 40,.25, 50,.35, 60,.45, 68,.62, 74,.72, 80,.7, 88,.75, 95,.8, 102,.85, 110,.88, 118,.92, 126,.95, 134,.98, 140,1.0, 148,.95, 156,.85, 165,.72, 175,.55, 185,.4, 195,.25, 199,.11],
  [10,.06, 20,.1, 30,.14, 40,.2, 50,.27, 60,.35, 70,.42, 80,.5, 90,.55, 100,.6, 108,.68, 115,.75, 120,.8, 126,.78, 132,.82, 140,.85, 148,.9, 155,.92, 162,.85, 170,.7, 178,.55, 186,.38, 194,.25, 200,.18, 210,.12],
  [10,.1, 20,.14, 30,.22, 40,.3, 50,.42, 60,.55, 70,.7, 78,.8, 85,.85, 92,.9, 100,.92, 108,.95, 115,.98, 120,1.0, 128,.92, 136,.78, 145,.6, 155,.42, 165,.25, 175,.15, 180,.12],
  [10,.07, 20,.11, 30,.17, 40,.24, 50,.32, 60,.4, 70,.5, 80,.6, 90,.68, 100,.75, 110,.8, 120,.85, 128,.88, 135,.92, 142,.95, 150,.92, 158,.85, 166,.75, 175,.6, 185,.45, 195,.32, 205,.22, 215,.15, 225,.12, 230,.11],
  [10,.09, 20,.13, 30,.2, 40,.28, 50,.36, 60,.45, 70,.55, 80,.65, 90,.75, 100,.85, 108,.92, 115,.98, 122,1.0, 130,.97, 138,.9, 146,.8, 155,.62, 165,.42, 172,.3, 180,.18, 185,.12],
  [10,.06, 20,.1, 30,.15, 40,.21, 50,.28, 60,.36, 70,.44, 80,.52, 90,.58, 100,.62, 110,.7, 118,.75, 125,.82, 130,.86, 136,.8, 145,.78, 155,.75, 165,.68, 175,.58, 185,.48, 195,.36, 205,.25, 215,.16, 220,.14],
  [10,.07, 20,.12, 30,.19, 40,.27, 50,.37, 60,.5, 70,.62, 75,.74, 80,.72, 88,.78, 95,.85, 100,.9, 105,1.0, 112,.98, 120,.92, 130,.8, 140,.62, 150,.45, 160,.3, 170,.18, 175,.12],
  [10,.08, 20,.12, 30,.17, 40,.23, 50,.3, 60,.38, 70,.46, 80,.54, 90,.6, 100,.65, 110,.72, 120,.78, 130,.84, 140,.88, 148,.86, 156,.9, 164,.94, 172,.96, 180,.9, 190,.75, 200,.58, 210,.42, 220,.3, 230,.2, 238,.14],
  [10,.06, 20,.11, 30,.17, 40,.25, 50,.34, 60,.44, 70,.54, 80,.64, 90,.72, 100,.8, 110,.88, 116,.9, 122,.84, 128,.88, 134,.95, 140,.98, 146,.92, 155,.8, 165,.62, 175,.45, 185,.3, 195,.16, 200,.12],
  [10,.09, 20,.15, 30,.23, 40,.32, 50,.42, 60,.53, 70,.64, 80,.74, 88,.8, 96,.85, 104,.88, 112,.92, 120,.95, 126,.88, 132,.8, 140,.68, 150,.5, 160,.32, 168,.2, 172,.14]
];
const spk2_m = [
  [10,.45, 18,.72, 25,.85, 32,.95, 38,1.0, 45,.98, 55,.95, 62,.88, 68,.78, 75,.65, 85,.55, 95,.52, 105,.5, 115,.48, 122,.45, 130,.38, 140,.3, 151,.23],
  [10,.35, 18,.6, 28,.85, 38,.95, 45,1.0, 52,.95, 60,.85, 68,.75, 75,.65, 82,.62, 92,.62, 100,.68, 108,.7, 115,.72, 125,.7, 135,.65, 145,.58, 155,.52, 165,.45, 175,.35, 185,.28, 195,.2, 208,.11],
  [10,.28, 18,.55, 28,.8, 36,.95, 42,1.0, 50,.98, 60,.92, 70,.85, 80,.78, 90,.72, 100,.65, 110,.55, 120,.45, 130,.35, 140,.28, 150,.22, 160,.18, 172,.12, 185,.12, 200,.11, 210,.1],
  [10,.22, 18,.5, 26,.7, 35,.85, 45,.92, 52,.95, 58,1.0, 66,.92, 75,.82, 85,.72, 95,.6, 105,.5, 115,.42, 125,.35, 135,.28, 148,.2, 160,.15, 172,.12],
  [10,.3, 20,.55, 30,.72, 40,.85, 50,.92, 58,.98, 65,1.0, 72,.9, 80,.72, 88,.62, 95,.7, 102,.78, 110,.78, 120,.72, 130,.65, 140,.6, 150,.62, 160,.55, 170,.48, 180,.42, 192,.3, 205,.2, 217,.1],
  [10,.38, 15,.42, 22,.45, 30,.65, 38,.82, 45,.92, 52,.98, 60,1.0, 68,.95, 75,.85, 85,.75, 95,.65, 105,.55, 115,.5, 125,.52, 135,.58, 145,.62, 155,.6, 165,.55, 175,.5, 185,.52, 195,.6, 205,.68, 213,.73, 222,.76, 231,.79, 242,.83, 253,.8, 266,.69, 280,.59, 298,.42, 311,.29, 325,.2, 340,.13],
  [10,.2, 18,.45, 28,.72, 38,.88, 48,.98, 56,1.0, 64,.95, 74,.82, 84,.7, 95,.58, 105,.5, 115,.42, 125,.35, 135,.32, 145,.28, 155,.22, 165,.18, 180,.15, 195,.12, 210,.1, 225,.1, 240,.12],
  [10,.32, 20,.6, 30,.8, 40,.92, 50,.98, 58,1.0, 68,.98, 80,.95, 90,.92, 100,.9, 110,.88, 120,.85, 130,.82, 140,.8, 150,.75, 160,.7, 170,.65, 180,.6, 190,.55, 200,.48, 210,.42, 220,.35, 230,.28, 245,.22, 260,.16, 280,.1],
  [10,.25, 20,.52, 30,.75, 40,.88, 50,.95, 58,1.0, 65,.98, 75,.95, 85,.92, 95,.9, 105,.88, 115,.85, 125,.82, 135,.8, 145,.75, 155,.68, 165,.62, 175,.55, 185,.5, 195,.45, 205,.4, 215,.35, 228,.3, 240,.25, 255,.2, 270,.15, 285,.12, 298,.1, 309,.1],
  [10,.42, 20,.62, 30,.82, 40,.95, 48,1.0, 56,.92, 64,.82, 72,.72, 80,.68, 90,.7, 100,.72, 110,.7, 120,.65, 130,.58, 140,.5, 150,.42, 160,.38, 170,.35, 180,.3, 190,.25, 200,.18, 210,.12, 218,.1],
  [10,.25, 18,.5, 28,.75, 36,.9, 44,1.0, 52,.95, 60,.85, 68,.72, 76,.6, 86,.52, 96,.46, 106,.42, 116,.38, 126,.32, 136,.25, 146,.18, 156,.14, 166,.12],
  [10,.4, 20,.58, 30,.75, 40,.9, 50,1.0, 58,.96, 66,.9, 74,.82, 82,.75, 92,.7, 102,.66, 112,.62, 122,.58, 132,.55, 142,.5, 152,.45, 162,.42, 172,.45, 182,.42, 192,.35, 202,.28, 212,.2, 222,.14, 232,.1]
];
const spk3_m = [
  [8,.1, 18,.3, 28,.5, 38,.7, 48,.88, 55,1.0, 62,1.0, 70,.95, 78,.88, 86,.78, 95,.65, 105,.5, 115,.38, 125,.25, 135,.15, 142,.08],
  [8,.15, 18,.35, 28,.55, 38,.72, 48,.8, 55,.85, 62,.88, 70,.95, 78,.98, 86,1.0, 95,.92, 105,.8, 115,.65, 125,.5, 135,.35, 145,.2, 152,.05],
  [8,.05, 20,.2, 32,.38, 44,.55, 56,.7, 66,.82, 76,.92, 86,.98, 95,1.0, 102,.95, 110,.85, 118,.72, 128,.58, 138,.42, 148,.28, 158,.15, 170,.04],
  [8,.12, 20,.28, 32,.42, 44,.5, 54,.55, 62,.6, 70,.7, 78,.78, 86,.85, 94,.9, 102,.95, 110,1.0, 118,.98, 126,.92, 134,.82, 142,.7, 152,.55, 162,.4, 172,.25, 181,.05],
  [8,.08, 20,.22, 32,.35, 44,.48, 56,.62, 68,.75, 80,.85, 92,.92, 102,.95, 112,.98, 120,1.0, 128,.98, 134,.98, 142,.92, 150,.85, 160,.75, 170,.65, 180,.58, 190,.52, 200,.45, 210,.32, 221,.1],
  [8,.2, 15,.4, 22,.62, 30,.78, 38,.85, 45,.9, 52,.95, 60,.92, 68,.88, 78,.8, 88,.7, 98,.58, 108,.45, 118,.32, 128,.2, 139,.14],
  [8,.06, 20,.18, 32,.32, 44,.45, 56,.58, 66,.68, 76,.78, 86,.85, 96,.9, 104,.88, 112,.92, 120,.98, 128,1.0, 136,.92, 146,.78, 156,.62, 166,.45, 176,.3, 188,.15, 201,.03],
  [8,.18, 16,.38, 24,.55, 32,.7, 42,.72, 52,.78, 62,.82, 70,.85, 78,.9, 86,.95, 94,1.0, 102,.96, 110,.9, 120,.78, 130,.62, 140,.48, 150,.32, 160,.18, 170,.08],
  [8,.1, 18,.25, 28,.38, 38,.5, 48,.58, 58,.6, 68,.65, 78,.75, 88,.85, 98,.92, 106,.95, 114,.98, 120,1.0, 126,.95, 134,.85, 144,.7, 154,.55, 164,.4, 174,.25, 181,.12],
  [8,.22, 16,.42, 24,.6, 32,.72, 40,.8, 48,.85, 56,.9, 64,.92, 72,.88, 80,.82, 90,.72, 100,.62, 110,.5, 120,.38, 130,.26, 140,.18, 150,.1],
  [8,.12, 18,.3, 28,.48, 38,.62, 48,.75, 56,.85, 64,.92, 72,.98, 80,1.0, 88,.95, 96,.85, 106,.7, 116,.55, 126,.4, 136,.26, 146,.14, 152,.1],
  [8,.05, 18,.15, 30,.3, 42,.45, 54,.58, 66,.7, 78,.8, 88,.86, 96,.9, 104,.95, 112,.98, 118,1.0, 124,.96, 132,.88, 140,.76, 150,.6, 160,.44, 170,.3, 180,.16, 188,.06],
  [8,.18, 18,.36, 28,.52, 38,.64, 48,.7, 58,.7, 66,.76, 74,.82, 82,.88, 90,.95, 98,1.0, 106,.94, 114,.84, 124,.7, 134,.55, 144,.4, 154,.26, 164,.14, 172,.06],
  [8,.08, 20,.24, 32,.4, 44,.55, 54,.66, 64,.76, 72,.84, 80,.9, 88,.94, 96,.9, 104,.94, 112,1.0, 120,.97, 128,.88, 136,.75, 146,.6, 156,.44, 166,.28, 176,.14, 180,.08]
];
const spk4_m = [
  [5,.57, 10,.62, 20,.79, 34,.95, 47,.93, 60,.88, 72,.92, 80,1.0, 88,.95, 96,.85, 105,.72, 115,.6, 125,.5, 135,.42, 145,.35, 155,.28, 165,.22, 175,.15, 185,.12, 198,.1],
  [5,.05, 15,.22, 25,.4, 35,.6, 45,.75, 55,.85, 65,.95, 75,1.0, 82,.95, 90,.85, 100,.72, 110,.6, 118,.5, 125,.35, 132,.32, 140,.38, 148,.35, 155,.3, 165,.28, 175,.32, 185,.3, 195,.28, 205,.22, 218,.15, 230,.08, 238,.02],
  [5,.1, 15,.28, 25,.48, 35,.65, 45,.78, 55,.88, 65,.95, 72,1.0, 80,.95, 88,.88, 96,.82, 105,.78, 115,.75, 125,.72, 135,.68, 145,.65, 155,.6, 165,.52, 175,.45, 185,.38, 195,.32, 205,.25, 215,.18, 228,.12, 240,.08, 258,.03],
  [5,.02, 15,.15, 25,.3, 35,.45, 45,.6, 55,.72, 65,.82, 72,.88, 80,.9, 88,.82, 96,.75, 105,.7, 115,.72, 125,.78, 135,.8, 145,.78, 155,.75, 165,.8, 175,.85, 185,.9, 195,.82, 205,.72, 215,.62, 225,.52, 235,.42, 245,.32, 255,.22, 265,.15, 278,.03],
  [5,.08, 15,.25, 28,.45, 40,.62, 52,.75, 62,.82, 72,.88, 82,.92, 92,.95, 102,.98, 112,1.0, 120,.95, 130,.88, 140,.82, 150,.78, 160,.72, 170,.68, 180,.62, 190,.55, 200,.48, 210,.42, 220,.35, 232,.28, 245,.22, 258,.15, 270,.1, 285,.05, 298,.02],
  [5,.03, 15,.18, 28,.38, 40,.55, 52,.68, 62,.78, 72,.85, 82,.88, 92,.85, 100,.72, 108,.6, 115,.42, 122,.35, 131,.35, 140,.32, 150,.3, 158,.3, 168,.32, 180,.34, 190,.32, 200,.3, 212,.28, 222,.27, 233,.27, 245,.24, 258,.22, 269,.2, 280,.12, 298,.02],
  [5,.06, 18,.25, 30,.42, 42,.58, 54,.7, 64,.8, 74,.9, 82,.96, 90,.95, 100,.9, 110,.88, 120,.92, 130,.98, 140,1.0, 150,.95, 160,.88, 170,.8, 180,.75, 190,.7, 200,.62, 210,.55, 220,.45, 230,.35, 240,.25, 250,.15, 258,.1],
  [5,.12, 15,.3, 28,.52, 40,.68, 50,.75, 58,.72, 66,.8, 74,.88, 82,.85, 92,.78, 102,.7, 112,.68, 122,.72, 132,.75, 142,.72, 152,.78, 162,.85, 172,.92, 180,1.0, 190,.98, 200,.88, 210,.75, 220,.62, 230,.5, 240,.4, 250,.35, 262,.3, 275,.22, 290,.12, 309,.07],
  [5,.04, 18,.2, 32,.38, 45,.55, 58,.68, 68,.78, 78,.85, 88,.9, 98,.92, 108,.88, 118,.82, 128,.75, 138,.68, 148,.6, 158,.55, 168,.5, 178,.48, 188,.45, 198,.42, 210,.38, 222,.32, 235,.25, 248,.2, 262,.15, 275,.1, 290,.06, 310,.03, 327,.01],
  [5,.15, 15,.35, 25,.55, 35,.72, 45,.85, 55,.92, 62,.95, 70,.92, 78,.85, 86,.78, 95,.68, 105,.55, 115,.45, 125,.36, 135,.3, 145,.24, 155,.18, 165,.12, 175,.08],
  [5,.04, 15,.2, 25,.38, 35,.55, 45,.7, 55,.82, 62,.9, 70,.96, 78,1.0, 86,.92, 94,.8, 102,.68, 110,.58, 118,.52, 126,.48, 134,.5, 142,.55, 150,.5, 160,.45, 170,.4, 180,.35, 190,.28, 200,.2, 210,.12, 220,.06],
  [5,.08, 15,.25, 25,.42, 35,.58, 45,.72, 55,.82, 65,.9, 75,.96, 85,.98, 95,.92, 105,.85, 115,.78, 125,.8, 135,.72, 145,.65, 155,.6, 165,.62, 175,.55, 185,.48, 195,.4, 205,.32, 215,.24, 225,.16, 235,.1, 245,.05]
];
// ---- (c) /n/ ----
const spk1_n = [
  [10,.08, 20,.12, 30,.16, 40,.16, 50,.17, 60,.2, 70,.21, 80,.21, 90,.28, 97,.43, 105,.55, 112,.64, 120,.74, 128,.82, 135,.87, 142,.9, 150,.95, 156,1.0, 162,.95, 170,.85, 178,.72, 186,.55, 194,.4, 202,.28, 210,.2, 219,.1],
  [10,.06, 20,.12, 30,.2, 40,.3, 50,.4, 60,.5, 70,.6, 78,.7, 82,.8, 88,.76, 95,.85, 100,1.0, 108,.95, 115,.92, 122,.88, 130,.72, 138,.55, 145,.4, 155,.3, 163,.22, 170,.2],
  [10,.08, 20,.13, 30,.22, 40,.32, 50,.42, 60,.52, 70,.6, 80,.68, 90,.75, 100,.82, 110,.9, 118,.95, 124,1.0, 130,.95, 138,.82, 146,.65, 155,.48, 165,.32, 174,.16],
  [10,.1, 20,.14, 30,.22, 40,.3, 50,.38, 60,.46, 70,.54, 80,.62, 90,.7, 100,.78, 110,.85, 118,.92, 126,.98, 132,1.0, 140,.94, 148,.85, 156,.7, 164,.52, 172,.35, 180,.18],
  [10,.07, 20,.11, 30,.18, 40,.26, 50,.35, 60,.44, 70,.52, 80,.6, 90,.66, 100,.72, 110,.78, 120,.85, 128,.9, 135,.95, 142,1.0, 150,.96, 158,.9, 166,.78, 175,.62, 185,.45, 195,.3, 199,.18],
  [10,.06, 20,.1, 30,.16, 40,.22, 50,.3, 60,.38, 70,.46, 80,.55, 90,.62, 100,.7, 110,.78, 120,.86, 128,.9, 134,.88, 140,.92, 148,.98, 155,1.0, 162,1.0, 170,.92, 178,.88, 186,.72, 194,.55, 202,.4, 210,.28, 221,.25],
  [10,.09, 20,.13, 30,.2, 40,.28, 50,.36, 60,.45, 70,.55, 80,.62, 90,.68, 100,.72, 110,.8, 118,.86, 125,.9, 132,.95, 140,.98, 148,1.0, 156,.95, 164,.88, 172,.72, 180,.58, 190,.42, 200,.3, 210,.18, 219,.12],
  [10,.07, 20,.12, 30,.19, 40,.27, 50,.36, 60,.46, 70,.56, 80,.66, 90,.74, 100,.82, 108,.88, 116,.92, 124,.88, 130,.92, 138,.98, 145,1.0, 152,.95, 160,.85, 170,.68, 180,.5, 190,.35, 200,.24, 212,.17, 222,.14, 230,.17],
  [10,.08, 20,.14, 30,.24, 40,.34, 50,.45, 60,.55, 70,.65, 80,.72, 90,.78, 98,.85, 105,.92, 112,.96, 118,1.0, 124,.98, 130,.88, 138,.72, 146,.55, 154,.38, 162,.25, 170,.18],
  [10,.06, 20,.11, 30,.18, 40,.25, 50,.33, 60,.42, 70,.5, 80,.58, 90,.64, 100,.7, 110,.76, 120,.82, 130,.86, 140,.92, 150,.95, 160,1.0, 168,.96, 176,.86, 184,.7, 192,.55, 200,.42, 208,.3, 216,.2, 222,.12],
  [10,.07, 20,.13, 30,.21, 40,.3, 50,.4, 60,.5, 70,.6, 80,.7, 88,.78, 95,.84, 102,.88, 110,.86, 118,.9, 126,.95, 134,1.0, 140,.96, 148,.85, 156,.68, 164,.5, 172,.35, 180,.22, 184,.12],
  [10,.09, 20,.14, 30,.2, 40,.27, 50,.35, 60,.43, 70,.52, 80,.6, 90,.66, 100,.62, 108,.7, 116,.8, 124,.86, 132,.88, 140,.9, 150,.94, 160,.96, 170,1.0, 178,.92, 186,.8, 194,.62, 202,.45, 210,.3, 218,.2, 225,.16],
  [10,.06, 20,.12, 30,.2, 40,.28, 50,.37, 60,.47, 70,.57, 80,.66, 90,.73, 100,.8, 106,.86, 112,.9, 118,.94, 124,.92, 130,.96, 138,1.0, 146,.95, 154,.82, 162,.65, 170,.48, 178,.32, 186,.2]
];
const spk2_n = [
  [10,.2, 18,.45, 28,.72, 38,.9, 45,1.0, 52,.92, 60,.78, 68,.62, 78,.5, 88,.42, 98,.35, 108,.32, 118,.28, 128,.22, 140,.18, 150,.15, 162,.12, 175,.08, 190,.04, 199,.01],
  [10,.55, 18,.65, 28,.8, 38,.92, 45,.98, 52,1.0, 60,.9, 68,.75, 76,.62, 84,.52, 92,.48, 100,.5, 110,.55, 120,.48, 130,.42, 140,.4, 150,.35, 160,.3, 170,.28, 180,.25, 190,.18, 200,.12, 208,.05],
  [10,.3, 20,.5, 30,.7, 40,.85, 50,.95, 58,1.0, 66,.95, 75,.88, 85,.85, 95,.82, 105,.88, 115,.9, 125,.92, 135,.95, 145,.9, 155,.85, 165,.75, 175,.7, 185,.72, 195,.68, 205,.7, 215,.62, 225,.55, 235,.5, 248,.45, 260,.38, 272,.3, 285,.2, 300,.03],
  [10,.38, 20,.48, 30,.6, 40,.75, 50,.88, 58,.95, 65,.88, 75,.95, 85,1.0, 92,.92, 100,.85, 110,.82, 120,.85, 130,.88, 140,.9, 150,.85, 160,.78, 170,.72, 180,.68, 190,.72, 200,.7, 210,.65, 220,.58, 232,.5, 245,.45, 258,.35, 270,.25, 282,.15, 295,.1, 309,.08],
  [10,.25, 20,.42, 32,.62, 45,.8, 55,.9, 62,.98, 70,1.0, 78,.88, 86,.72, 95,.58, 105,.5, 115,.45, 125,.42, 135,.48, 145,.55, 155,.62, 163,.75, 170,.85, 177,1.0, 185,.97, 195,.9, 205,.88, 215,.8, 225,.7, 235,.58, 245,.45, 255,.35, 268,.25, 280,.15, 295,.08, 310,.05, 331,.03],
  [10,.15, 20,.32, 30,.5, 42,.7, 52,.85, 62,.95, 70,1.0, 80,.98, 90,.9, 100,.82, 110,.72, 120,.62, 130,.55, 140,.5, 150,.45, 160,.4, 170,.35, 180,.32, 190,.3, 200,.28, 210,.25, 220,.22],
  [10,.42, 20,.55, 32,.7, 42,.82, 52,.92, 60,1.0, 70,.98, 80,.92, 90,.88, 100,.85, 110,.82, 120,.78, 130,.7, 140,.6, 150,.48, 160,.38, 170,.3, 180,.25, 190,.22, 200,.2, 210,.18, 220,.12, 230,.1, 240,.12, 248,.08],
  [10,.33, 20,.55, 30,.75, 40,.9, 48,1.0, 56,.92, 64,.85, 72,.8, 80,.75, 90,.72, 100,.68, 110,.65, 120,.6, 130,.55, 140,.48, 150,.42, 160,.35, 170,.28, 180,.2, 190,.12, 200,.08, 210,.05, 220,.04, 240,.01],
  [10,.28, 20,.5, 30,.68, 40,.82, 50,.92, 60,.98, 70,.95, 80,.92, 90,.95, 100,1.0, 110,.95, 120,.9, 130,.85, 140,.8, 150,.72, 160,.65, 170,.58, 180,.52, 190,.45, 200,.4, 210,.35, 220,.3, 230,.25, 240,.2, 252,.15, 265,.1, 280,.02],
  [10,.48, 20,.6, 30,.75, 40,.88, 50,.98, 58,1.0, 66,.98, 75,.95, 85,.9, 95,.92, 105,.98, 115,1.0, 125,.95, 135,.88, 145,.8, 155,.72, 165,.68, 175,.65, 185,.62, 195,.6, 205,.55, 215,.5, 225,.45, 235,.42, 245,.38, 258,.3, 270,.22, 285,.12, 300,.06],
  [10,.3, 20,.5, 30,.7, 40,.85, 50,.95, 56,1.0, 64,.88, 72,.75, 80,.62, 90,.55, 100,.5, 110,.48, 120,.45, 130,.48, 140,.44, 150,.38, 160,.3, 170,.25, 180,.15, 190,.12, 200,.08],
  [10,.2, 20,.38, 30,.55, 40,.7, 50,.82, 60,.9, 68,.96, 76,1.0, 84,.95, 92,.88, 102,.8, 112,.72, 122,.65, 132,.56, 142,.48, 152,.4, 162,.34, 172,.3, 182,.28, 192,.2, 202,.14, 212,.1]
];
const spk3_n = [
  [8,.1, 18,.3, 28,.5, 38,.7, 48,.88, 55,1.0, 62,.95, 70,.85, 78,.75, 88,.62, 98,.5, 108,.38, 118,.28, 130,.15, 141,.06],
  [5,.28, 12,.35, 20,.48, 28,.6, 38,.75, 48,.88, 58,.95, 65,1.0, 72,.9, 80,.82, 90,.72, 100,.6, 110,.48, 120,.36, 130,.24, 140,.16, 150,.11],
  [8,.05, 18,.2, 30,.35, 42,.48, 54,.6, 66,.72, 78,.85, 88,.92, 98,.98, 105,1.0, 112,.95, 120,.85, 130,.72, 140,.55, 150,.38, 160,.22, 170,.02],
  [8,.08, 20,.22, 32,.35, 44,.5, 56,.62, 68,.75, 80,.82, 90,.88, 100,.92, 110,.96, 118,1.0, 126,.95, 134,.85, 142,.72, 150,.6, 160,.45, 170,.32, 180,.18, 190,.04],
  [8,.12, 18,.28, 28,.42, 38,.5, 46,.55, 54,.62, 62,.7, 70,.78, 78,.85, 86,.9, 94,.95, 102,.9, 110,.92, 118,.98, 125,1.0, 132,.96, 140,.88, 150,.75, 160,.6, 170,.45, 180,.3, 190,.18, 199,.08],
  [8,.03, 20,.15, 32,.28, 44,.42, 56,.55, 66,.66, 76,.76, 86,.84, 96,.9, 104,.95, 112,1.0, 120,.98, 128,.92, 136,.88, 144,.8, 152,.7, 162,.58, 172,.45, 182,.32, 192,.2, 202,.1, 210,.05],
  [8,.15, 15,.25, 25,.42, 35,.55, 45,.65, 52,.78, 58,.88, 64,.95, 70,1.0, 78,.95, 86,.88, 94,.78, 104,.65, 114,.5, 124,.38, 134,.25, 144,.15, 157,.07],
  [8,.06, 20,.2, 30,.3, 40,.4, 50,.5, 60,.62, 70,.72, 80,.78, 88,.82, 96,.88, 104,.85, 112,.9, 120,.95, 128,.92, 136,.85, 146,.72, 156,.58, 166,.42, 176,.28, 185,.15, 190,.08],
  [8,.2, 16,.35, 25,.5, 35,.65, 45,.78, 52,.88, 58,.92, 64,.85, 72,.8, 80,.7, 90,.6, 100,.48, 110,.36, 120,.25, 130,.15, 136,.1],
  [8,.1, 18,.26, 28,.42, 38,.56, 48,.7, 58,.82, 66,.9, 74,.96, 82,1.0, 90,.96, 98,.86, 108,.72, 118,.56, 128,.42, 138,.28, 148,.16, 156,.08],
  [8,.04, 20,.16, 32,.3, 44,.44, 56,.56, 68,.68, 80,.78, 90,.85, 100,.9, 108,.88, 116,.94, 124,.98, 130,1.0, 138,.94, 146,.84, 156,.7, 166,.55, 176,.4, 186,.26, 196,.14, 204,.06],
  [5,.2, 15,.32, 25,.45, 35,.58, 45,.7, 55,.82, 62,.9, 70,.94, 78,.9, 86,.86, 94,.9, 102,.95, 110,.9, 118,.8, 128,.65, 138,.5, 148,.35, 158,.22, 166,.12],
  [8,.08, 18,.22, 28,.36, 38,.48, 48,.58, 58,.66, 68,.74, 78,.82, 86,.88, 94,.94, 100,1.0, 108,.98, 116,.92, 124,.84, 132,.74, 142,.6, 152,.45, 162,.3, 172,.18, 180,.08]
];
const spk4_n = [
  [3,.1, 12,.3, 22,.55, 32,.78, 40,.92, 48,1.0, 56,.95, 64,.85, 72,.78, 80,.72, 90,.65, 100,.58, 110,.5, 120,.42, 130,.35, 140,.28, 149,.23, 160,.2, 170,.16, 180,.13, 195,.09, 207,.05, 218,.02, 228,.0],
  [3,.53, 10,.58, 20,.78, 30,.92, 38,1.0, 46,.95, 55,.88, 64,.82, 72,.88, 80,.95, 88,1.0, 96,.92, 104,.85, 112,.78, 120,.7, 128,.62, 136,.55, 145,.48, 155,.42, 165,.35, 175,.28, 185,.22, 195,.15, 205,.1, 217,.06],
  [3,.2, 12,.35, 22,.52, 32,.68, 42,.8, 52,.88, 60,.92, 68,.95, 76,1.0, 84,.98, 92,.9, 100,.85, 108,.8, 116,.78, 124,.82, 132,.88, 140,.92, 148,.95, 156,1.0, 164,.95, 172,.88, 180,.78, 188,.7, 196,.62, 205,.55, 215,.45, 225,.35, 235,.25, 248,.15, 260,.06],
  [3,.05, 15,.2, 28,.38, 40,.55, 52,.7, 62,.8, 72,.88, 80,.95, 88,1.0, 96,.95, 104,.88, 112,.82, 120,.85, 128,.9, 136,.95, 145,1.0, 155,.95, 165,.88, 175,.82, 185,.72, 195,.62, 205,.55, 215,.48, 225,.4, 235,.35, 245,.28, 255,.2, 265,.15, 275,.1, 286,.04],
  [3,.12, 15,.3, 28,.5, 40,.65, 52,.75, 62,.82, 72,.78, 82,.72, 92,.78, 102,.85, 112,.9, 122,.95, 130,.98, 140,1.0, 150,.98, 160,.92, 170,.88, 180,.85, 190,.78, 200,.72, 210,.68, 220,.65, 232,.62, 245,.6, 258,.58, 270,.5, 280,.42, 292,.3, 308,.03],
  [3,.08, 15,.22, 28,.38, 40,.5, 52,.6, 62,.62, 72,.6, 82,.58, 92,.62, 102,.68, 112,.75, 122,.82, 132,.88, 142,.92, 152,.95, 162,.98, 170,1.0, 178,.95, 186,.88, 195,.8, 205,.72, 215,.68, 225,.66, 235,.65, 245,.64, 256,.62, 270,.62, 286,.64, 300,.58, 313,.51, 322,.54, 330,.56, 339,.5, 348,.35, 359,.15],
  [3,.15, 12,.35, 22,.55, 30,.72, 38,.85, 46,.92, 54,.88, 62,.82, 70,.88, 78,.95, 86,.98, 94,.92, 102,.82, 110,.72, 120,.62, 130,.55, 140,.48, 150,.42, 160,.35, 170,.28, 180,.22, 190,.15, 200,.1, 210,.06],
  [3,.04, 15,.15, 28,.3, 40,.45, 52,.58, 62,.68, 72,.75, 82,.8, 92,.78, 102,.75, 112,.8, 122,.85, 132,.9, 140,.95, 148,.98, 156,1.0, 164,.98, 172,.92, 182,.85, 192,.78, 202,.72, 212,.65, 222,.58, 232,.52, 242,.45, 252,.38, 262,.3, 272,.22, 285,.15, 298,.08, 308,.03],
  [3,.02, 15,.12, 28,.25, 40,.38, 52,.5, 62,.58, 72,.65, 82,.7, 92,.72, 102,.75, 112,.8, 122,.85, 132,.88, 142,.85, 152,.88, 162,.92, 172,.95, 182,.98, 190,1.0, 198,.98, 206,.92, 215,.85, 225,.78, 235,.72, 245,.65, 255,.58, 265,.5, 275,.42, 285,.35, 295,.28, 305,.22, 320,.14],
  [3,.18, 12,.32, 22,.48, 32,.62, 42,.75, 52,.85, 60,.9, 68,.88, 76,.82, 84,.75, 92,.68, 100,.62, 110,.58, 120,.62, 130,.68, 140,.75, 150,.82, 160,.88, 170,.9, 180,.85, 190,.78, 200,.72, 210,.65, 220,.58, 230,.5, 240,.42, 250,.35, 260,.28, 270,.2, 280,.15, 290,.12, 300,.1, 310,.08, 320,.1, 330,.12, 339,.08],
  [3,.06, 15,.18, 28,.32, 40,.45, 52,.55, 62,.6, 72,.58, 82,.55, 92,.5, 102,.48, 112,.5, 122,.55, 132,.62, 142,.7, 152,.75, 162,.78, 172,.82, 182,.85, 192,.82, 202,.75, 212,.68, 222,.6, 232,.52, 242,.45, 252,.38, 262,.3, 272,.22, 282,.15, 295,.08, 305,.04],
  [3,.25, 12,.45, 22,.62, 30,.72, 38,.8, 46,.85, 54,.9, 62,.95, 70,1.0, 78,.95, 86,.9, 94,.85, 102,.8, 110,.72, 120,.65, 130,.55, 140,.45, 150,.38, 160,.32, 170,.25, 180,.2, 190,.15, 200,.12, 210,.1]
];

// Panel titles (one row per consonant, one column per speaker)
const TITLES = {
  t: ['Speaker #1  /t/', 'Speaker #2  /t/', 'Speaker #3  /t/', 'Speaker #4  /t/'],
  d: ['Speaker #1 /d/', 'Speaker #2  /d/', 'Speaker #3  /d/', 'Speaker #4  /d/'],
  s: ['Speaker #1 /s/', 'Speaker #2  /s/', 'Speaker #3  /s/', 'Speaker #4 /s/'],
  z: ['Speaker #1  /z/', 'Speaker #2  /z/', 'Speaker #3  /z/', 'Speaker #4 /z/'],
  m: ['Speaker #1  /m/', 'Speaker #2  /m/', 'Speaker #3  /m/', 'Speaker #4  /m/'],
  n: ['Speaker #1  /n/', 'Speaker #2  /n/', 'Speaker #3  /n/', 'Speaker #4  /n/']
};
const SERIES = {
  t: [spk1_t, spk2_t, spk3_t, spk4_t],
  d: [spk1_d, spk2_d, spk3_d, spk4_d],
  s: [spk1_s, spk2_s, spk3_s, spk4_s],
  z: [spk1_z, spk2_z, spk3_z, spk4_z],
  m: [spk1_m, spk2_m, spk3_m, spk4_m],
  n: [spk1_n, spk2_n, spk3_n, spk4_n]
};

// ---------- layout (page pixels) ----------
const ROWS = ['t', 'd', 's', 'z', 'm', 'n'];
// plot frame [left, top, right, bottom] per row / column
const FRAMES = {
  t: [[71,18,370,217], [381,16,682,216], [697,15,997,215], [1011,16,1312,215]],
  d: [[71,230,370,432], [384,231,684,431], [697,230,997,430], [1011,230,1311,430]],
  s: [[69,518,369,717], [379,518,679,716], [691,518,990,716], [999,518,1299,716]],
  z: [[69,730,369,931], [383,732,683,932], [691,732,991,932], [999,732,1300,932]],
  m: [[71,1014,371,1214], [379,1014,679,1214], [687,1014,988,1214], [998,1014,1298,1214]],
  n: [[71,1227,371,1426], [379,1227,679,1426], [687,1225,987,1425], [998,1223,1299,1423]]
};
// where the "0" and "400" time labels sit under each bottom-row frame
const LABEL_SPAN = {
  d: [[80,356], [393,669], [707,980], [1022,1297]],
  z: [[70.5,333.5], [385,643], [698.5,952], [1007,1257.5]],
  n: [[63,358], [376,666], [690,979], [1006,1300]]
};
const LABEL_GAP = { d: 5, z: 8, n: 7 };
// title anchor: [right edge x, centre y]
const TITLE_POS = {
  t: [[353,38], [660,35], [981,37], [1298,35]],
  d: [[355,252], [659,250], [976,248], [1298,250]],
  s: [[353,540], [652,538], [963,538], [1288,539]],
  z: [[350,753], [658,753], [970,752], [1288,750]],
  m: [[360,1032], [658,1033], [968,1033], [1280,1031]],
  n: [[350,1247], [658,1245], [962,1243], [1277,1243]]
};
const GROUPS = [
  { tag: '(a)', tagY: 15, yLabelY: 225, xLabel: [697, 468] },
  { tag: '(b)', tagY: 510, yLabelY: 731, xLabel: [689, 970] },
  { tag: '(c)', tagY: 1007, yLabelY: 1215, xLabel: [696, 1466] }
];

const INK = '#1a1a1a';
const FRAME_INK = '#3a3a3a';
const TICK_FONT = { family: '"Liberation Serif", "DejaVu Serif", serif', size: 16 };
const M = { l: 48, t: 22, r: 22, b: 28 };

const stage = document.getElementById('stage');

// Box around the plot area with short inward tick marks on all four sides
const framePlugin = {
  id: 'frame',
  afterDatasetsDraw(chart, args, opts) {
    const { ctx, chartArea: a, scales: { x, y } } = chart;
    ctx.save();
    ctx.strokeStyle = FRAME_INK;
    ctx.lineWidth = 1.3;
    ctx.strokeRect(a.left, a.top, a.right - a.left, a.bottom - a.top);
    ctx.lineWidth = 1;
    ctx.beginPath();
    const len = 4;
    TIME_TICKS.forEach(v => {
      if (v <= x.min || v >= x.max) return;
      const px = Math.round(x.getPixelForValue(v)) + 0.5;
      ctx.moveTo(px, a.bottom); ctx.lineTo(px, a.bottom - len);
      ctx.moveTo(px, a.top); ctx.lineTo(px, a.top + len);
    });
    const yStep = opts.yStep || 0.2;
    for (let v = yStep; v < 1 - 1e-6; v += yStep) {
      const py = Math.round(y.getPixelForValue(v)) + 0.5;
      ctx.moveTo(a.left, py); ctx.lineTo(a.left + len, py);
      ctx.moveTo(a.right, py); ctx.lineTo(a.right - len, py);
    }
    ctx.stroke();
    ctx.restore();
  }
};

function toPoints(flat) {
  const pts = [];
  for (let i = 0; i < flat.length; i += 2) pts.push({ x: flat[i], y: flat[i + 1] });
  return pts;
}

function addText(cls, text, css) {
  const el = document.createElement('div');
  el.className = cls;
  el.textContent = text;
  Object.assign(el.style, css);
  stage.appendChild(el);
  return el;
}

function makePanel(key, col) {
  const [L, T, R, B] = FRAMES[key][col];
  const span = LABEL_SPAN[key] ? LABEL_SPAN[key][col] : null;
  const showY = col === 0;
  const w = R - L + M.l + M.r;
  const h = B - T + M.t + M.b;
  const box = document.createElement('div');
  box.className = 'panel';
  Object.assign(box.style, { left: (L - M.l) + 'px', top: (T - M.t) + 'px', width: w + 'px', height: h + 'px' });
  const cv = document.createElement('canvas');
  cv.width = w; cv.height = h;
  cv.style.width = w + 'px'; cv.style.height = h + 'px';
  box.appendChild(cv);
  stage.appendChild(box);

  // time labels are printed on their own axis so they can sit where the figure places them
  const t0 = TIME_TICKS[0], t1 = TIME_TICKS[TIME_TICKS.length - 1];
  const lab = span
    ? { min: t0 + (L - span[0]) / (span[1] - span[0]) * (t1 - t0), max: t0 + (R - span[0]) / (span[1] - span[0]) * (t1 - t0) }
    : { min: t0, max: t1 };

  new Chart(cv, {
    type: 'line',
    data: {
      datasets: SERIES[key][col].map(c => ({
        data: toPoints(c),
        borderColor: INK,
        borderWidth: 1.3,
        pointRadius: 0,
        tension: 0,
        fill: false
      }))
    },
    options: {
      responsive: false,
      animation: false,
      events: [],
      layout: { padding: { left: 0, top: M.t, right: M.r, bottom: 0 } },
      scales: {
        x: {
          type: 'linear', position: 'bottom', min: t0, max: t1,
          afterBuildTicks: s => { s.ticks = TIME_TICKS.map(v => ({ value: v })); },
          ticks: { display: false },
          grid: { display: false, drawTicks: false },
          border: { display: false },
          afterFit: s => { s.height = 0; }
        },
        xl: {
          type: 'linear', position: 'bottom', min: lab.min, max: lab.max,
          afterBuildTicks: s => { s.ticks = TIME_TICKS.map(v => ({ value: v })); },
          ticks: { display: !!span, font: TICK_FONT, color: INK, padding: span ? LABEL_GAP[key] : 0, maxRotation: 0, autoSkip: false },
          grid: { display: false, drawTicks: false },
          border: { display: false },
          afterFit: s => { s.height = M.b; }
        },
        y: {
          type: 'linear', min: 0, max: 1,
          afterBuildTicks: s => { s.ticks = ENERGY_TICKS.map(v => ({ value: v })); },
          ticks: { display: showY, font: TICK_FONT, color: INK, padding: 8, callback: v => String(v) },
          grid: { display: false, drawTicks: false },
          border: { display: false },
          afterFit: s => { s.width = M.l; }
        }
      },
      plugins: {
        legend: { display: false },
        tooltip: { enabled: false },
        frame: { yStep: (key === 's' || key === 'z') && col === 0 ? 0.1 : 0.2 }
      }
    },
    plugins: [framePlugin]
  });

  const [tx, ty] = TITLE_POS[key][col];
  addText(col === 0 ? 'spk first' : 'spk', TITLES[key][col], { right: (1325 - tx) + 'px', top: (ty - 9) + 'px' });
}

ROWS.forEach(key => { for (let c = 0; c < 4; c++) makePanel(key, c); });

GROUPS.forEach(g => {
  addText('grp', g.tag, { left: '7px', top: (g.tagY - 12) + 'px' });
  addText('yt', 'Normalised Energy', { left: (18 - 110) + 'px', top: (g.yLabelY - 11) + 'px' });
  addText('xt', 'Time [ms]', { left: (g.xLabel[0] - 100) + 'px', top: (g.xLabel[1] - 11) + 'px' });
});
</script>
</body>
</html>
